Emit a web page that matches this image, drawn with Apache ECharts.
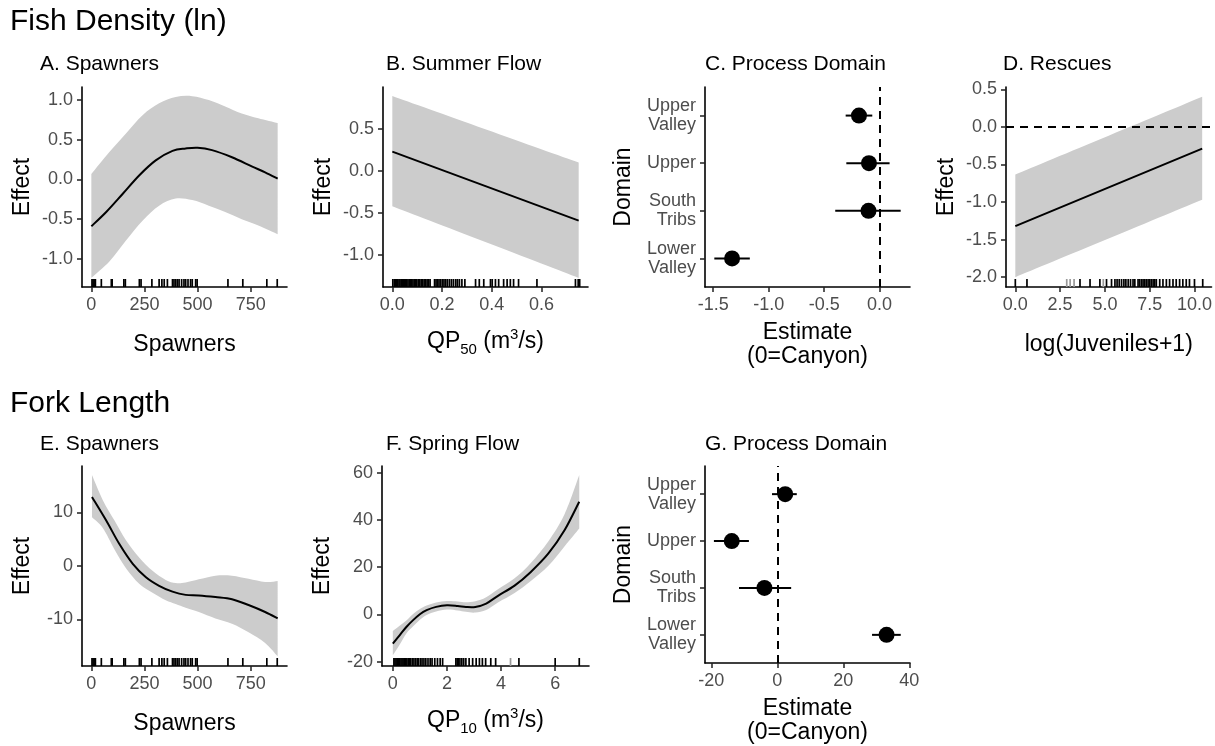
<!DOCTYPE html>
<html><head><meta charset="utf-8">
<script src="https://cdn.jsdelivr.net/npm/echarts@6/dist/echarts.min.js"></script>
<style>html,body{margin:0;padding:0;background:#fff}#c{width:1215px;height:746px}</style>
</head><body><div id="c"></div>
<script>
// ---------- DATA ----------
// A. Spawners (fish density)
const aX     = [0, 70, 148, 225, 303, 382, 444, 500, 568, 662, 755, 818, 877];
const aFit   = [-0.59, -0.41, -0.18, 0.05, 0.24, 0.36, 0.39, 0.40, 0.37, 0.28, 0.165, 0.09, 0.01];
const aBandX = [0, 86, 163, 241, 319, 397, 475, 553, 630, 708, 786, 877];
const aUpper = [0.07, 0.35, 0.58, 0.81, 0.96, 1.04, 1.05, 1.00, 0.92, 0.83, 0.77, 0.71];
const aLower = [-1.24, -1.03, -0.77, -0.52, -0.33, -0.24, -0.26, -0.33, -0.41, -0.50, -0.58, -0.69];
const spawnRug = [3, 8, 13, 19, 47, 94, 98, 153, 160, 226, 234, 285, 319, 332, 343, 358, 382, 389, 397, 405, 413, 425, 436, 444, 455, 467, 475, 491, 498, 643, 713, 826, 875];

// B. Summer Flow
const bX     = [0, 0.75];
const bFit   = [0.23, -0.59];
const bUpper = [0.89, 0.10];
const bLower = [-0.42, -1.27];
const bRug = [0.002, 0.008, 0.012, 0.018, 0.022, 0.027, 0.031, 0.036, 0.040, 0.045, 0.050, 0.054, 0.058, 0.063, 0.068, 0.072, 0.078, 0.083, 0.088, 0.093, 0.098, 0.104, 0.110, 0.116, 0.122, 0.128, 0.134, 0.140, 0.146, 0.152, 0.170, 0.176, 0.182, 0.188, 0.195, 0.202, 0.208, 0.215, 0.222, 0.230, 0.238, 0.246, 0.255, 0.262, 0.270, 0.280, 0.292, 0.335, 0.350, 0.368, 0.395, 0.402, 0.415, 0.428, 0.448, 0.462, 0.475, 0.488, 0.508, 0.582, 0.737, 0.748, 0.754];

// C / G. Process Domain (bottom to top)
const domains = ['Lower\nValley', 'South\nTribs', 'Upper', 'Upper\nValley'];
const cEst = [-1.33, -0.10, -0.096, -0.186];
const cLo  = [-1.49, -0.40, -0.30, -0.306];
const cHi  = [-1.17, 0.19, 0.09, -0.066];
const gEst = [33.1, -3.9, -13.8, 2.4];
const gLo  = [28.7, -11.6, -19.2, -1.6];
const gHi  = [37.4, 4.2, -8.6, 5.9];

// D. Rescues
const dX     = [0, 10.43];
const dFit   = [-1.32, -0.29];
const dUpper = [-0.635, 0.40];
const dLower = [-2.0, -0.97];
const dRug = [0, 0.65, 3.61, 4.17, 4.72, 5.09, 5.37, 5.56, 5.68, 5.8, 5.93, 6.06, 6.17, 6.3, 6.43, 6.57, 6.67, 6.85, 6.94, 7.04, 7.13, 7.22, 7.31, 7.41, 7.5, 7.59, 7.69, 7.78, 7.87, 8.06, 8.24, 8.43, 8.61, 8.8, 8.98, 9.17, 9.35, 9.54, 9.72, 10.0, 10.46];
const dRugLight = [2.87, 3.06, 3.28, 4.91];

// E. Spawners (fork length)
const eX     = [3, 70, 132, 195, 257, 319, 382, 444, 506, 584, 662, 740, 818, 877];
const eFit   = [12.9, 8.5, 4.1, 0.4, -2.1, -3.7, -4.8, -5.4, -5.5, -5.8, -6.2, -7.3, -8.6, -9.8];
const eBandX = [3, 54, 109, 163, 225, 288, 350, 397, 444, 506, 584, 662, 740, 818, 877];
const eUpper = [17.0, 12.3, 8.5, 4.8, 1.6, -0.9, -2.6, -3.2, -3.1, -2.5, -1.8, -1.8, -2.4, -3.0, -2.8];
const eLower = [9.1, 7.1, 3.1, -0.4, -3.3, -5.0, -6.4, -7.1, -7.8, -8.6, -9.8, -10.8, -12.4, -14.4, -16.9];

// F. Spring Flow
const fX     = [0, 0.25, 0.5, 0.75, 1.0, 1.25, 1.6, 2.0, 2.4, 2.7, 3.05, 3.45, 3.9, 4.5, 5.1, 5.75, 6.35, 6.89];
const fFit   = [-12.3, -8.8, -5.3, -2.4, 0.1, 1.8, 3.2, 3.9, 3.6, 3.2, 3.2, 4.6, 8.0, 12.2, 18.0, 25.8, 35.7, 47.7];
const fUpper = [-7.0, -4.8, -2.6, 0.2, 2.3, 3.8, 5.1, 5.7, 5.5, 5.2, 5.6, 7.3, 10.8, 15.3, 21.8, 31.0, 42.5, 59.0];
const fLower = [-17.3, -12.8, -8.0, -5.0, -2.2, -0.2, 1.3, 2.1, 1.7, 1.1, 0.8, 1.9, 5.2, 9.1, 14.2, 20.6, 28.9, 36.4];
const fRug = [0.04, 0.08, 0.12, 0.16, 0.2, 0.25, 0.3, 0.34, 0.38, 0.43, 0.48, 0.52, 0.57, 0.62, 0.66, 0.72, 0.78, 0.84, 0.9, 0.95, 1.02, 1.08, 1.15, 1.22, 1.3, 1.38, 1.45, 1.55, 1.65, 1.75, 1.84, 2.33, 2.38, 2.42, 2.48, 2.55, 2.62, 2.7, 2.82, 2.95, 3.08, 3.2, 3.31, 3.43, 3.62, 3.8, 4.66, 6.0, 6.89];
const fRugLight = [4.35];

// Tick labels
const tickA_x = [0, 250, 500, 750];
const tickA_y = [-1.0, -0.5, 0.0, 0.5, 1.0];
const tickB_x = [0.0, 0.2, 0.4, 0.6];
const tickB_y = [-1.0, -0.5, 0.0, 0.5];
const tickC_x = [-1.5, -1.0, -0.5, 0.0];
const tickD_x = [0.0, 2.5, 5.0, 7.5, 10.0];
const tickD_y = [-2.0, -1.5, -1.0, -0.5, 0.0, 0.5];
const tickE_y = [-10, 0, 10];
const tickF_x = [0, 2, 4, 6];
const tickF_y = [-20, 0, 20, 40, 60];
const tickG_x = [-20, 0, 20, 40];
const domainTicks = [0, 1, 2, 3];

// ---------- BUILD ----------
const FONT = 'Liberation Sans, Arial, Helvetica, sans-serif';
const grids = [
  {left: 82,  top: 87,  width: 205, height: 200}, // A
  {left: 383, top: 87,  width: 205, height: 200}, // B
  {left: 705, top: 87,  width: 205, height: 200}, // C
  {left: 1006,top: 87,  width: 206, height: 200}, // D
  {left: 82,  top: 466, width: 205, height: 200}, // E
  {left: 382, top: 466, width: 207, height: 200}, // F
  {left: 705, top: 466, width: 205, height: 200}  // G
];
const f1 = v => v.toFixed(1);
const f0 = v => String(Math.round(v));
const fDom = v => domains[Math.round(v)];

function axis(gi, min, max, ticks, fmt, name, gap, extra) {
  const a = {
    type: 'value', gridIndex: gi, min: min, max: max,
    axisLine: {show: true, onZero: false, lineStyle: {color: '#000', width: 1.6}},
    axisTick: {show: true, length: 5, lineStyle: {color: '#222', width: 1.5}, customValues: ticks},
    axisLabel: {customValues: ticks, formatter: fmt, color: '#4d4d4d', fontSize: 18, margin: 9, fontFamily: FONT},
    splitLine: {show: false},
    name: name, nameLocation: 'middle', nameGap: gap,
    nameTextStyle: {color: '#000', fontSize: 23, fontFamily: FONT}
  };
  return Object.assign(a, extra || {});
}
const qpRich = {
  t: {fontSize: 23, color: '#000', fontFamily: FONT, lineHeight: 30},
  s: {fontSize: 15, color: '#000', fontFamily: FONT, lineHeight: 16, verticalAlign: 'bottom'},
  p: {fontSize: 15, color: '#000', fontFamily: FONT, lineHeight: 14, verticalAlign: 'top'}
};
const domLabel = {lineHeight: 19, align: 'right'};

const xAxes = [
  axis(0, -44, 921, tickA_x, f0, 'Spawners', 46),
  axis(1, -0.0375, 0.7875, tickB_x, f1, '{t|QP}{s|50}{t| (m}{p|3}{t|/s)}', 40, {nameTextStyle: {rich: qpRich}}),
  axis(2, -1.574, 0.274, tickC_x, f1, 'Estimate\n(0=Canyon)', 34, {nameTextStyle: {color: '#000', fontSize: 23, fontFamily: FONT, lineHeight: 24}}),
  axis(3, -0.52, 10.95, tickD_x, f1, 'log(Juveniles+1)', 46),
  axis(4, -44, 921, tickA_x, f0, 'Spawners', 46),
  axis(5, -0.4, 7.25, tickF_x, f0, '{t|QP}{s|10}{t| (m}{p|3}{t|/s)}', 40, {nameTextStyle: {rich: qpRich}}),
  axis(6, -21.9, 40.2, tickG_x, f0, 'Estimate\n(0=Canyon)', 34, {nameTextStyle: {color: '#000', fontSize: 23, fontFamily: FONT, lineHeight: 24}})
];
const yAxes = [
  axis(0, -1.355, 1.165, tickA_y, f1, 'Effect', 48),
  axis(1, -1.378, 0.998, tickB_y, f1, 'Effect', 48),
  axis(2, -0.6, 3.6, domainTicks, fDom, 'Domain', 70),
  axis(3, -2.13, 0.53, tickD_y, f1, 'Effect', 48),
  axis(4, -18.7, 18.7, tickE_y, f0, 'Effect', 48),
  axis(5, -21.8, 62.8, tickF_y, f0, 'Effect', 48),
  axis(6, -0.6, 3.6, domainTicks, fDom, 'Domain', 70)
];
yAxes[2].axisLabel = Object.assign({}, yAxes[2].axisLabel, domLabel);
yAxes[6].axisLabel = Object.assign({}, yAxes[6].axisLabel, domLabel);

// Catmull-Rom smoothing of pixel points into a bezier path
function smoothPath(pts, start) {
  let d = start ? 'M' + pts[0][0] + ' ' + pts[0][1] : 'L' + pts[0][0] + ' ' + pts[0][1];
  for (let i = 0; i < pts.length - 1; i++) {
    const p0 = pts[Math.max(i - 1, 0)], p1 = pts[i], p2 = pts[i + 1], p3 = pts[Math.min(i + 2, pts.length - 1)];
    const c1 = [p1[0] + (p2[0] - p0[0]) / 6, p1[1] + (p2[1] - p0[1]) / 6];
    const c2 = [p2[0] - (p3[0] - p1[0]) / 6, p2[1] - (p3[1] - p1[1]) / 6];
    d += 'C' + c1[0] + ' ' + c1[1] + ' ' + c2[0] + ' ' + c2[1] + ' ' + p2[0] + ' ' + p2[1];
  }
  return d;
}

const series = [];
function band(gi, xs, lo, hi) {
  series.push({type: 'custom', xAxisIndex: gi, yAxisIndex: gi, silent: true, z: 1, data: [[xs[0], lo[0]]],
    renderItem: (params, api) => {
      const up = xs.map((x, i) => api.coord([x, hi[i]]));
      const dn = xs.map((x, i) => api.coord([x, lo[i]])).reverse();
      const d = smoothPath(up, true) + smoothPath(dn, false) + 'Z';
      return {type: 'path', shape: {pathData: d}, style: {fill: '#cccccc', stroke: null}};
    }});
}
function fit(gi, xs, ys) {
  series.push({type: 'custom', xAxisIndex: gi, yAxisIndex: gi, silent: true, z: 3, data: [[xs[0], ys[0]]],
    renderItem: (params, api) => {
      const pts = xs.map((x, i) => api.coord([x, ys[i]]));
      return {type: 'path', shape: {pathData: smoothPath(pts, true)}, style: {fill: null, stroke: '#000', lineWidth: 2}};
    }});
}
function rug(gi, xs, ymin, color) {
  series.push({type: 'scatter', xAxisIndex: gi, yAxisIndex: gi, symbol: 'rect', symbolSize: [1.7, 8],
    symbolOffset: [0, -4], clip: false, itemStyle: {color: color, opacity: 1},
    data: xs.map(x => [x, ymin]), silent: true, z: 4});
}
function dots(gi, est, lo, hi) {
  series.push({type: 'custom', xAxisIndex: gi, yAxisIndex: gi, silent: true, z: 3,
    data: est.map((e, i) => [lo[i], hi[i], i]),
    renderItem: (params, api) => {
      const p1 = api.coord([api.value(0), api.value(2)]);
      const p2 = api.coord([api.value(1), api.value(2)]);
      return {type: 'line', shape: {x1: p1[0], y1: p1[1], x2: p2[0], y2: p2[1]}, style: {stroke: '#000', lineWidth: 2}};
    }});
  series.push({type: 'scatter', xAxisIndex: gi, yAxisIndex: gi, symbol: 'circle', symbolSize: 16,
    itemStyle: {color: '#000', opacity: 1}, data: est.map((e, i) => [e, i]), silent: true, z: 4});
}
const dashStyle = {color: '#000', width: 2, type: [8, 6], opacity: 1};
function vline(gi) {
  series.push({type: 'line', xAxisIndex: gi, yAxisIndex: gi, data: [], markLine: {silent: true, symbol: 'none', label: {show: false}, lineStyle: dashStyle, data: [{xAxis: 0}]}});
}
function hline(gi) {
  series.push({type: 'line', xAxisIndex: gi, yAxisIndex: gi, data: [], markLine: {silent: true, symbol: 'none', label: {show: false}, lineStyle: dashStyle, data: [{yAxis: 0}]}});
}

// A
band(0, aBandX, aLower, aUpper); fit(0, aX, aFit); rug(0, spawnRug, -1.355, '#000');
// B
band(1, bX, bLower, bUpper); fit(1, bX, bFit); rug(1, bRug, -1.378, '#000');
// C
vline(2); dots(2, cEst, cLo, cHi);
// D
band(3, dX, dLower, dUpper); fit(3, dX, dFit); hline(3);
rug(3, dRugLight, -2.13, '#999'); rug(3, dRug, -2.13, '#000');
// E
band(4, eBandX, eLower, eUpper); fit(4, eX, eFit); rug(4, spawnRug, -18.7, '#000');
// F
band(5, fX, fLower, fUpper); fit(5, fX, fFit); rug(5, fRugLight, -21.8, '#999'); rug(5, fRug, -21.8, '#000');
// G
vline(6); dots(6, gEst, gLo, gHi);

function ttl(text, left, top, size) {
  return {text: text, left: left, top: top, padding: 0,
    textStyle: {color: '#000', fontSize: size, fontWeight: 'normal', fontFamily: FONT}};
}
const titles = [
  ttl('Fish Density (ln)', 10, 7, 30),
  ttl('A. Spawners', 40, 54, 21),
  ttl('B. Summer Flow', 386, 54, 21),
  ttl('C. Process Domain', 705, 54, 21),
  ttl('D. Rescues', 1003, 54, 21),
  ttl('Fork Length', 10, 389, 30),
  ttl('E. Spawners', 40, 434, 21),
  ttl('F. Spring Flow', 386, 434, 21),
  ttl('G. Process Domain', 705, 434, 21)
];

const chart = echarts.init(document.getElementById('c'), null, {renderer: 'canvas'});
chart.setOption({
  animation: false,
  backgroundColor: '#fff',
  title: titles,
  grid: grids,
  xAxis: xAxes,
  yAxis: yAxes,
  series: series
});
</script></body></html>
